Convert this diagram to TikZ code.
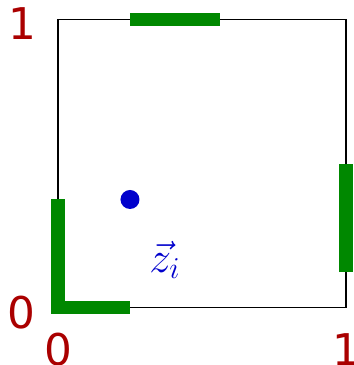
\documentclass[tikz,border=0pt]{standalone}
\usepackage{fontspec}
\setsansfont{DejaVu Sans}
\usepackage{xcolor}
\usepackage{tikz}
\usetikzlibrary{positioning}
\definecolor{udarkred}{HTML}{AA0000}
\definecolor{ugreen}{HTML}{008800}
\definecolor{ublue}{HTML}{0000CC}
\tikzset{
  unitbox/.style={draw=black, line width=0.6pt},
  facebar/.style={draw=ugreen, line width=5.5pt, line join=miter},
  ticklabel/.style={font=\LARGE\sffamily, text=udarkred, inner sep=0pt},
  pointdot/.style={fill=ublue},
  pointlabel/.style={font=\LARGE, text=ublue, inner sep=0pt},
}
\begin{document}
\begin{tikzpicture}[x=4cm, y=4cm]

  \useasboundingbox (-0.2014,-0.1997) rectangle (1.0278,1.0677);

  % unit square
  \draw[unitbox] (0,0) rectangle (1,1);

  % green faces
  \draw[facebar] (0.25,1) -- (0.5625,1);
  \draw[facebar] (1,0.123) -- (1,0.498);
  \draw[facebar] (0,0.375) -- (0,0) -- (0.25,0);

  % point and its label
  \fill[pointdot] (0.25,0.375) circle (0.132cm);
  \node[pointlabel] (zlabel) at (0.372,0.165) {$\vec{z}_i$};

  % axis ticks
  \node[ticklabel] (yone)  at (-0.123,0.987) {1};
  \node[ticklabel] (yzero) at (-0.126,-0.016) {0};
  \node[ticklabel] (xzero) at (0,-0.145) {0};
  \node[ticklabel] (xone)  at (1,-0.145) {1};

\end{tikzpicture}
\end{document}
